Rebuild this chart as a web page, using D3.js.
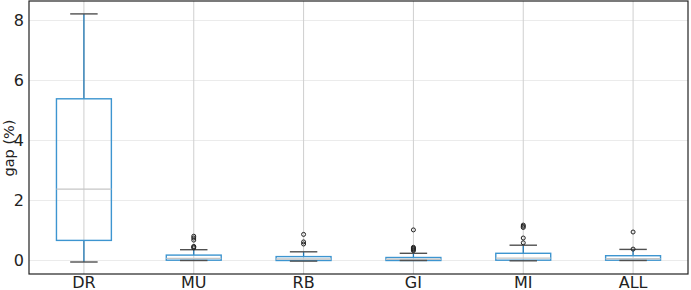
<!DOCTYPE html>
<html>
<head>
<meta charset="utf-8">
<script src="https://cdn.jsdelivr.net/npm/d3@7"></script>
<style>
  body { margin: 0; background: #fff; }
  svg { display: block; font-family: "DejaVu Sans", sans-serif; }
</style>
</head>
<body>
<div id="chart"></div>
<script>
// box statistics (gap in %)
const categories = ['DR', 'MU', 'RB', 'GI', 'MI', 'ALL'];
const whisk_lo = [-0.05, 0.0, -0.02, 0.0, -0.01, 0.0];
const q1 = [0.67, 0.01, 0.0, 0.0, 0.01, 0.01];
const medians = [2.38, 0.07, 0.05, 0.04, 0.08, 0.06];
const q3 = [5.39, 0.18, 0.13, 0.1, 0.24, 0.16];
const whisk_hi = [8.22, 0.36, 0.29, 0.24, 0.51, 0.37];
const fliers = [
    [],
    [0.42, 0.45, 0.47, 0.68, 0.75, 0.81],
    [0.55, 0.62, 0.87],
    [0.33, 0.36, 0.39, 0.41, 0.44, 1.02],
    [0.59, 0.75, 1.1, 1.14, 1.18],
    [0.38, 0.95]
];
const y_ticks = [0, 2, 4, 6, 8];

const width = 691, height = 290;
const margin = { top: 1, right: 3, bottom: 16, left: 29 };

const svg = d3.select('#chart')
    .append('svg')
    .attr('width', width)
    .attr('height', height);

const x = d3.scaleBand()
    .domain(categories)
    .range([margin.left, width - margin.right])
    .padding(0);

const y = d3.scaleLinear()
    .domain([-0.45, 8.65])
    .range([height - margin.bottom, margin.top]);

const cx = d => x(d) + x.bandwidth() / 2;
const box_w = x.bandwidth() * 0.5;
const cap_w = box_w * 0.5;

// grid
svg.append('g')
    .selectAll('line')
    .data(y_ticks)
    .join('line')
    .attr('x1', margin.left).attr('x2', width - margin.right)
    .attr('y1', d => y(d)).attr('y2', d => y(d))
    .attr('stroke', '#ebebeb').attr('stroke-width', 1);

svg.append('g')
    .selectAll('line')
    .data(categories)
    .join('line')
    .attr('x1', d => cx(d)).attr('x2', d => cx(d))
    .attr('y1', margin.top).attr('y2', height - margin.bottom)
    .attr('stroke', '#cfcfcf').attr('stroke-width', 1);

// boxes
const boxes = svg.append('g')
    .selectAll('g')
    .data(categories.map((c, i) => ({ c, i })))
    .join('g');

// whiskers
boxes.append('line')
    .attr('x1', d => cx(d.c)).attr('x2', d => cx(d.c))
    .attr('y1', d => y(q3[d.i])).attr('y2', d => y(whisk_hi[d.i]))
    .attr('stroke', '#1f77b4').attr('stroke-width', 1.3);
boxes.append('line')
    .attr('x1', d => cx(d.c)).attr('x2', d => cx(d.c))
    .attr('y1', d => y(q1[d.i])).attr('y2', d => y(whisk_lo[d.i]))
    .attr('stroke', '#1f77b4').attr('stroke-width', 1.3);

boxes.append('rect')
    .attr('x', d => cx(d.c) - box_w / 2)
    .attr('width', box_w)
    .attr('y', d => y(q3[d.i]))
    .attr('height', d => Math.max(1, y(q1[d.i]) - y(q3[d.i])))
    .attr('fill', 'none')
    .attr('stroke', '#3d95d0').attr('stroke-width', 1.4);

boxes.append('line')
    .attr('x1', d => cx(d.c) - box_w / 2).attr('x2', d => cx(d.c) + box_w / 2)
    .attr('y1', d => y(medians[d.i])).attr('y2', d => y(medians[d.i]))
    .attr('stroke', '#c6c6c6').attr('stroke-width', 1.4);

// caps
[whisk_hi, whisk_lo].forEach(arr => {
    boxes.append('line')
        .attr('x1', d => cx(d.c) - cap_w / 2).attr('x2', d => cx(d.c) + cap_w / 2)
        .attr('y1', d => y(arr[d.i])).attr('y2', d => y(arr[d.i]))
        .attr('stroke', '#505050').attr('stroke-width', 1.4);
});

// fliers
boxes.each(function (d) {
    d3.select(this).selectAll('circle')
        .data(fliers[d.i])
        .join('circle')
        .attr('cx', cx(d.c))
        .attr('cy', v => y(v))
        .attr('r', 2)
        .attr('fill', 'none')
        .attr('stroke', '#222')
        .attr('stroke-width', 1);
});

// frame
svg.append('rect')
    .attr('x', margin.left).attr('y', margin.top)
    .attr('width', width - margin.left - margin.right)
    .attr('height', height - margin.top - margin.bottom)
    .attr('fill', 'none')
    .attr('stroke', '#222').attr('stroke-width', 1.2);

// axes
const y_axis = svg.append('g')
    .attr('transform', `translate(${margin.left},0)`)
    .call(d3.axisLeft(y).tickValues(y_ticks).tickSize(0).tickPadding(5));
y_axis.select('.domain').remove();
y_axis.selectAll('text').attr('font-size', 16).attr('fill', '#222')
    .attr('font-family', '"DejaVu Sans", sans-serif');

const x_axis = svg.append('g')
    .attr('transform', `translate(0,${height - margin.bottom})`)
    .call(d3.axisBottom(x).tickSize(0).tickPadding(3));
x_axis.select('.domain').remove();
x_axis.selectAll('text').attr('font-size', 16).attr('fill', '#222')
    .attr('font-family', '"DejaVu Sans", sans-serif');

svg.append('text')
    .attr('transform', `translate(13.5,148) rotate(-90)`)
    .attr('text-anchor', 'middle')
    .attr('font-size', 14.5)
    .attr('fill', '#222')
    .text('gap (%)');
</script>
</body>
</html>
